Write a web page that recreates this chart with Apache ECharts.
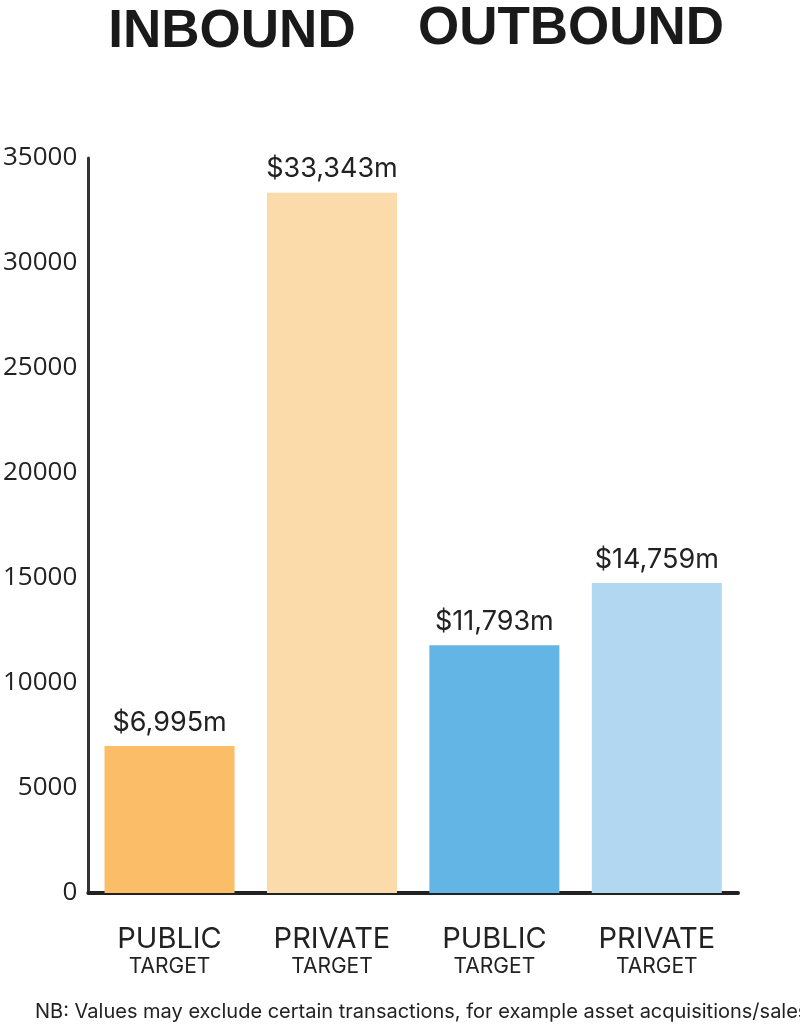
<!DOCTYPE html>
<html>
<head>
<meta charset="utf-8">
<script src="https://cdn.jsdelivr.net/npm/echarts@6/dist/echarts.min.js"></script>
<style>
  html, body { margin: 0; padding: 0; background: #fff; }
  #chart { width: 800px; height: 1030px; }
</style>
</head>
<body>
<div id="chart"></div>
<script>
var categories = ['PUBLIC', 'PRIVATE', 'PUBLIC', 'PRIVATE'];
var subLabels = ['TARGET', 'TARGET', 'TARGET', 'TARGET'];
var values = [6995, 33343, 11793, 14759];
var valueLabels = ['$6,995m', '$33,343m', '$11,793m', '$14,759m'];
var barColors = ['#fbbd68', '#fcdbab', '#62b5e5', '#b2d7f1'];
var groupTitles = ['INBOUND', 'OUTBOUND'];
var note = 'NB: Values may exclude certain transactions, for example asset acquisitions/sales';

var myChart = echarts.init(document.getElementById('chart'));

var barData = [];
for (var i = 0; i < values.length; i++) {
  barData.push({
    value: values[i],
    itemStyle: { color: barColors[i] }
  });
}

var option = {
  animation: false,
  backgroundColor: '#ffffff',
  grid: {
    left: 88,
    right: 62,
    top: 158,
    bottom: 137
  },
  xAxis: {
    type: 'category',
    data: categories,
    axisTick: { show: false },
    axisLine: {
      lineStyle: { color: '#222', width: 4 }
    },
    axisLabel: {
      margin: 30,
      formatter: function (val, idx) {
        return '{a|' + val + '}\n{b|' + subLabels[idx] + '}';
      },
      rich: {
        a: { fontFamily: 'Inter', fontSize: 29, color: '#222', lineHeight: 32 },
        b: { fontFamily: 'Inter', fontSize: 21, color: '#222', lineHeight: 24 }
      }
    }
  },
  yAxis: {
    type: 'value',
    min: 0,
    max: 35000,
    interval: 5000,
    splitLine: { show: false },
    axisTick: { show: false },
    axisLine: {
      show: true,
      lineStyle: { color: '#333', width: 3 }
    },
    axisLabel: {
      margin: 11,
      fontFamily: 'Open Sans',
      fontSize: 26,
      color: '#222',
      formatter: function (v) { return String(v); }
    }
  },
  series: [{
    type: 'bar',
    barWidth: 130,
    data: barData,
    label: {
      show: true,
      position: 'top',
      distance: 10,
      fontFamily: 'Inter',
      fontSize: 27,
      color: '#222',
      formatter: function (p) {
        return valueLabels[p.dataIndex];
      }
    }
  }],
  graphic: [
    {
      type: 'text',
      x: 232, y: 32,
      style: {
        text: groupTitles[0],
        font: 'bold 53px "Liberation Sans"',
        fill: '#1a1a1a',
        textAlign: 'center',
        textVerticalAlign: 'middle'
      }
    },
    {
      type: 'text',
      x: 571, y: 29,
      style: {
        text: groupTitles[1],
        font: 'bold 53px "Liberation Sans"',
        fill: '#1a1a1a',
        textAlign: 'center',
        textVerticalAlign: 'middle'
      }
    },
    {
      type: 'text',
      x: 35, y: 1012,
      style: {
        text: note,
        font: '20px Inter',
        fill: '#222',
        textAlign: 'left',
        textVerticalAlign: 'middle'
      }
    }
  ]
};

myChart.setOption(option);
</script>
</body>
</html>
